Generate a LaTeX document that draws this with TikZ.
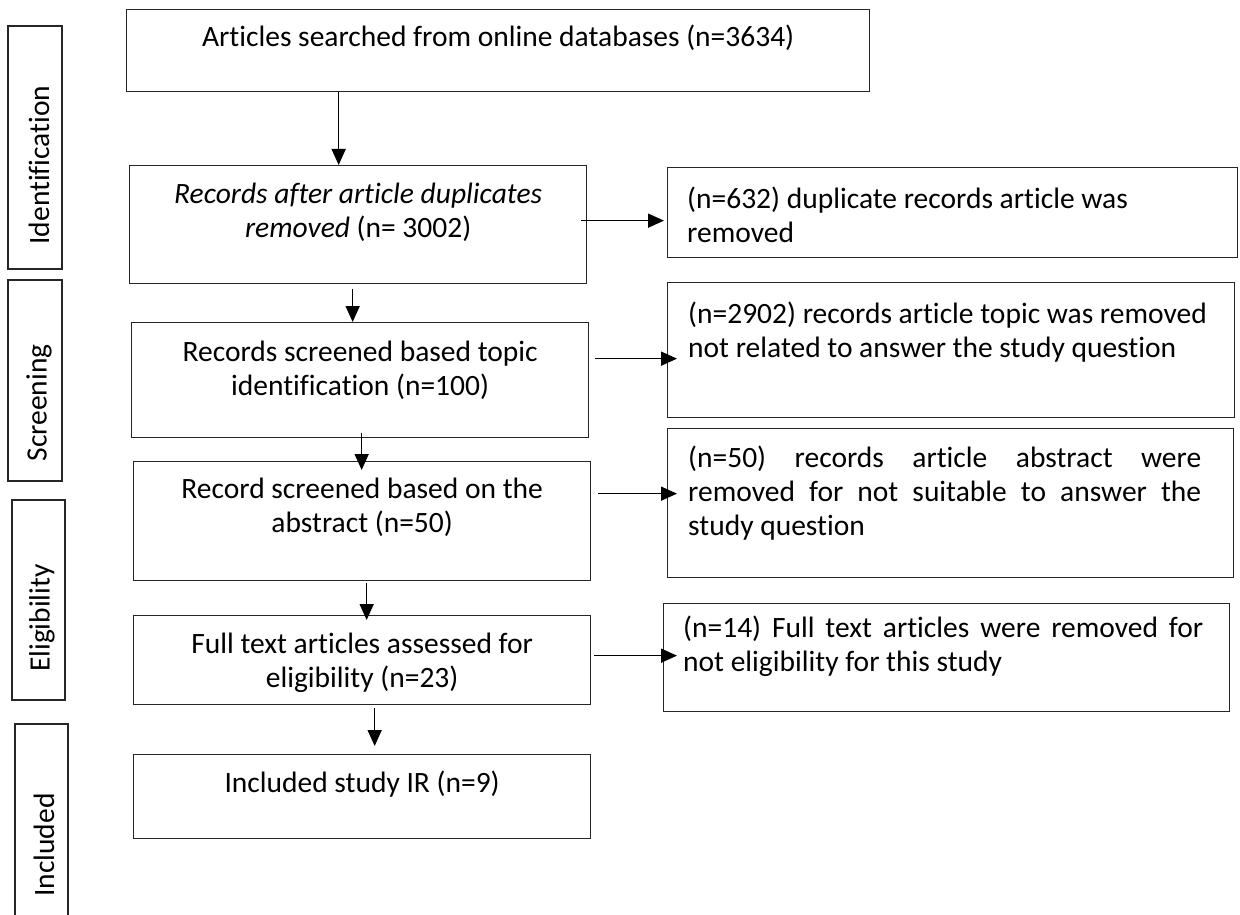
\documentclass[tikz,border=0pt]{standalone}
\usepackage{fontspec}
\setmainfont{Carlito}[Ligatures=NoCommon]
\usetikzlibrary{arrows.meta,positioning}

\begin{document}
\begin{tikzpicture}[x=1pt, y=-1pt,
  every node/.style={font=\fontsize{29.5}{34}\selectfont},
  box/.style={draw=black!85, line width=1.3pt, inner sep=0pt, anchor=north west},
  frame/.style={draw=black!85, line width=1.3pt},
  ctext/.style={anchor=north, inner sep=0pt, align=center},
  ltext/.style={anchor=north west, inner sep=0pt, align=left},
  phase/.style={rotate=90, inner sep=0pt},
  arr/.style={line width=1.6pt, -{Triangle[length=16pt,width=14pt]}}]
  \useasboundingbox (0,0) rectangle (1240,915);
  % Phase labels on the left
  \draw[frame] (8,26) rectangle (62,269);
  \node[phase] (ident) at (39,165) {Identification};
  \draw[frame] (8,280) rectangle (62,481);
  \node[phase] (screen) at (39,403) {Screening};
  \draw[frame] (12,500) rectangle (65,700);
  \node[phase] (elig) at (42,618) {Eligibility};
  \draw[frame] (15,724) rectangle (68,925);
  \node[phase] (incl) at (44,845) {Included};
  % Main column
  \node[box, minimum width=743pt, minimum height=82pt] (b1) at (126,9) {};
  \node[ctext] (t1) at ([yshift=-14pt]b1.north)
    {\strut Articles searched from online databases (n=3634)};
  \node[box, minimum width=457pt, minimum height=118pt] (b2) at (129,165) {};
  \node[ctext] (t2) at ([yshift=-14pt]b2.north)
    {\strut\textit{Records after article duplicates}\\\textit{removed} (n= 3002)};
  \node[box, minimum width=457pt, minimum height=115pt] (b3) at (131,322) {};
  \node[ctext] (t3) at ([yshift=-15pt]b3.north)
    {\strut Records screened based topic\\identification (n=100)};
  \node[box, minimum width=457pt, minimum height=119pt] (b4) at (133,461) {};
  \node[ctext] (t4) at ([yshift=-13pt]b4.north)
    {\strut Record screened based on the\\abstract (n=50)};
  \node[box, minimum width=457pt, minimum height=89pt] (b5) at (133,615) {};
  \node[ctext] (t5) at ([yshift=-14pt]b5.north)
    {\strut Full text articles assessed for\\eligibility (n=23)};
  \node[box, minimum width=457pt, minimum height=84pt] (b6) at (133,754) {};
  \node[ctext] (t6) at ([yshift=-14pt]b6.north)
    {\strut Included study IR (n=9)};
  % Removed records
  \node[box, minimum width=570pt, minimum height=90pt] (r2) at (667,167) {};
  \node[ltext] (s2) at ([xshift=20pt, yshift=-17pt]r2.north west)
    {\strut(n=632) duplicate records article was\\removed};
  \node[box, minimum width=567pt, minimum height=135pt] (r3) at (667,282) {};
  \node[ltext] (s3) at ([xshift=21pt, yshift=-17pt]r3.north west)
    {\strut(n=2902) records article topic was removed\\not related to answer the study question};
  \node[box, minimum width=566pt, minimum height=149pt] (r4) at (667,428) {};
  \node[ltext] (s4) at ([xshift=21pt, yshift=-15pt]r4.north west)
    {\strut\makebox[513pt][s]{(n=50) records article abstract were}\\
     \makebox[513pt][s]{removed for not suitable to answer the}\\
     study question};
  \node[box, minimum width=566pt, minimum height=108pt] (r5) at (663,603) {};
  \node[ltext] (s5) at ([xshift=20pt, yshift=-10pt]r5.north west)
    {\strut\makebox[520pt][s]{(n=14) Full text articles were removed for}\\
     not eligibility for this study};
  % Downward arrows
  \coordinate (a1) at ([xshift=-19.5pt]b2.north);
  \coordinate (a2) at ([xshift=-7.5pt]b3.north);
  \coordinate (a3) at ([xshift=-0.5pt]b4.north);
  \coordinate (a4) at ([xshift=4.5pt]b5.north);
  \coordinate (a5) at ([xshift=12.5pt]b6.north);
  \draw[arr] (a1 |- b1.south) -- (a1);
  \draw[arr, shorten <=5pt] (a2 |- b2.south) -- (a2);
  \draw[arr, shorten <=-5pt, shorten >=-9pt] (a3 |- b3.south) -- (a3);
  \draw[arr, shorten <=2pt, shorten >=-5pt] (a4 |- b4.south) -- (a4);
  \draw[arr, shorten <=3pt, shorten >=8pt] (a5 |- b5.south) -- (a5);
  % Side arrows
  \coordinate (h2) at ([yshift=4pt]b2.east);
  \coordinate (h3) at ([yshift=21.5pt]b3.east);
  \coordinate (h4) at ([yshift=27.5pt]b4.east);
  \coordinate (h5) at ([yshift=4.5pt]b5.east);
  \draw[arr, shorten <=-6pt, shorten >=3pt] (h2) -- (h2 -| r2.west);
  \draw[arr, shorten <=6pt, shorten >=-10pt] (h3) -- (h3 -| r3.west);
  \draw[arr, shorten <=7pt, shorten >=-10pt] (h4) -- (h4 -| r4.west);
  \draw[arr, shorten <=3pt, shorten >=-14pt] (h5) -- (h5 -| r5.west);
\end{tikzpicture}
\end{document}
